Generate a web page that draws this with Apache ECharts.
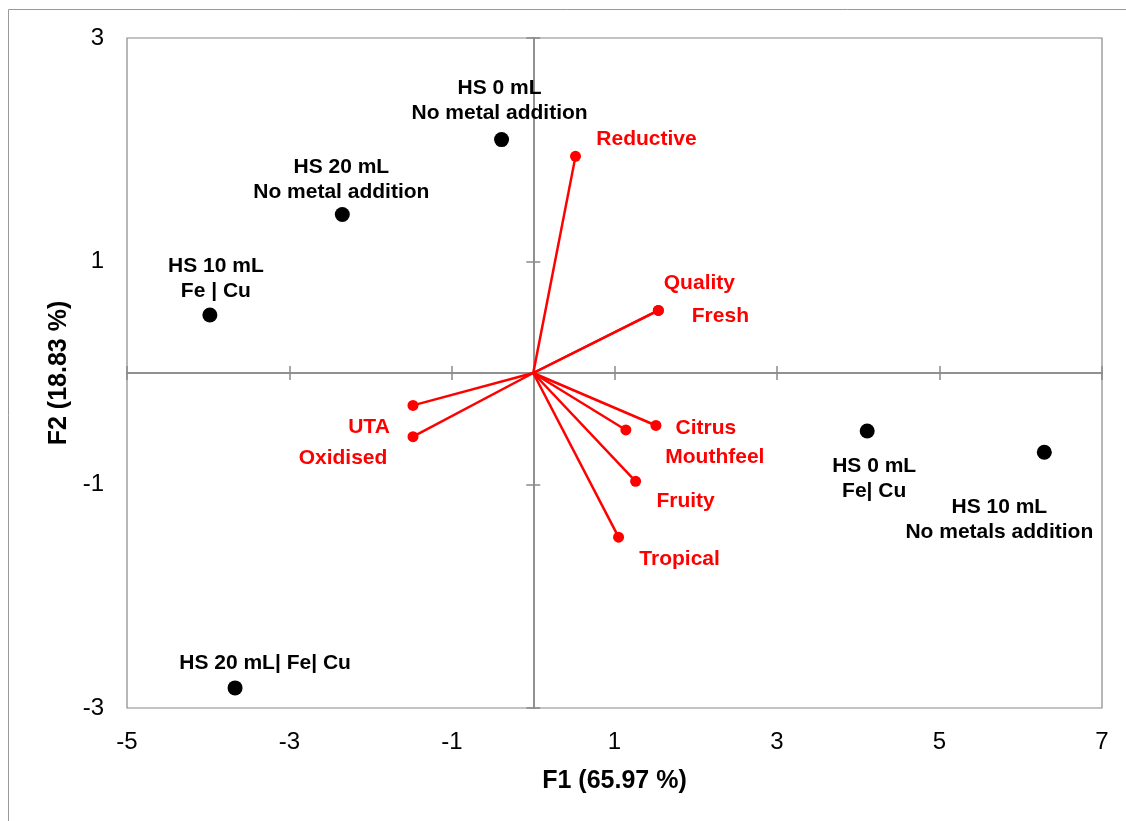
<!DOCTYPE html>
<html>
<head>
<meta charset="utf-8">
<script src="https://cdn.jsdelivr.net/npm/echarts@6/dist/echarts.min.js"></script>
<style>
html,body{margin:0;padding:0;background:#fff;}
#chart{width:1126px;height:821px;}
</style>
</head>
<body>
<div id="chart"></div>
<script>
// ---- Data ----
const obsNames = ['HS 0 mL\nNo metal addition', 'HS 20 mL\nNo metal addition', 'HS 10 mL\nFe | Cu', 'HS 20 mL| Fe| Cu', 'HS 0 mL\nFe| Cu', 'HS 10 mL\nNo metals addition'];
const obsF1 = [-0.39, -2.35, -3.98, -3.67, 4.11, 6.29];
const obsF2 = [2.09, 1.42, 0.52, -2.82, -0.52, -0.71];

const varNames = ['Reductive', 'Quality', 'Fresh', 'UTA', 'Oxidised', 'Citrus', 'Mouthfeel', 'Fruity', 'Tropical'];
const varF1 = [0.52, 1.54, 1.54, -1.48, -1.48, 1.51, 1.14, 1.26, 1.05];
const varF2 = [1.94, 0.56, 0.56, -0.29, -0.57, -0.47, -0.51, -0.97, -1.47];

const xTicks = [-5, -3, -1, 1, 3, 5, 7];
const yTicks = [-3, -1, 1, 3];
const xTitle = 'F1 (65.97 %)';
const yTitle = 'F2 (18.83 %)';

// ---- Label placement (pixel offsets of label centres from their marks) ----
const obsLabelOffsets = [[-2, -39], [-1, -35], [6, -36], [30, -25], [7, 48], [-45, 67]];
const varLabelOffsets = [[71, -17], [41, -27], [62, 6], [-44, 22], [-70, 22], [50, 3], [89, 27], [50, 20], [61, 22]];

const FONT = '"Liberation Sans", Arial, sans-serif';
const AXIS_GRAY = '#8a8a8a';

const chart = echarts.init(document.getElementById('chart'), null, {renderer: 'canvas'});

function baseX(extra) {
  return Object.assign({
    type: 'value', min: xTicks[0], max: xTicks[xTicks.length - 1], interval: 2,
    splitLine: {show: false}
  }, extra);
}
function baseY(extra) {
  return Object.assign({
    type: 'value', min: yTicks[0], max: yTicks[yTicks.length - 1], interval: 2,
    splitLine: {show: false}
  }, extra);
}

const zeroLine = {show: true, onZero: true, onZeroAxisIndex: 0, lineStyle: {color: AXIS_GRAY, width: 1.5}};

const vectorSeries = varNames.map((n, i) => ({
  type: 'line',
  name: 'vec-' + n,
  data: [[0, 0], [varF1[i], varF2[i]]],
  symbol: 'none',
  lineStyle: {color: '#ff0000', width: 2.5, opacity: 1},
  silent: true,
  animation: false,
  z: 3
}));

const option = {
  animation: false,
  backgroundColor: '#ffffff',
  textStyle: {fontFamily: FONT},
  grid: {
    left: 127, top: 38, width: 975, height: 670,
    show: true, borderColor: '#888888', borderWidth: 1.2, backgroundColor: 'transparent'
  },
  graphic: [{
    type: 'rect', silent: true, z: -10,
    shape: {x: 8.5, y: 9.5, width: 1300, height: 1000},
    style: {fill: 'none', stroke: '#999999', lineWidth: 1}
  }],
  xAxis: [
    baseX({
      position: 'bottom',
      axisLine: {show: false, onZero: false},
      axisTick: {show: false},
      axisLabel: {show: true, fontSize: 24, color: '#000', margin: 22, fontFamily: FONT,
        formatter: v => xTicks.includes(v) ? String(v) : ''},
      name: xTitle, nameLocation: 'middle', nameGap: 61,
      nameTextStyle: {fontSize: 25, fontWeight: 'bold', color: '#000', fontFamily: FONT}
    }),
    baseX({axisLine: zeroLine, axisTick: {show: true, inside: false, length: 7, lineStyle: {color: AXIS_GRAY, width: 1.5}}, axisLabel: {show: false}}),
    baseX({axisLine: zeroLine, axisTick: {show: true, inside: true, length: 7, lineStyle: {color: AXIS_GRAY, width: 1.5}}, axisLabel: {show: false}})
  ],
  yAxis: [
    baseY({
      position: 'left',
      axisLine: {show: false, onZero: false},
      axisTick: {show: false},
      axisLabel: {show: true, fontSize: 24, color: '#000', margin: 23, fontFamily: FONT,
        formatter: v => yTicks.includes(v) ? String(v) : ''},
      name: yTitle, nameLocation: 'middle', nameGap: 51, nameRotate: 90,
      nameTextStyle: {fontSize: 25, fontWeight: 'bold', color: '#000', fontFamily: FONT}
    }),
    baseY({axisLine: zeroLine, axisTick: {show: true, inside: false, length: 7, lineStyle: {color: AXIS_GRAY, width: 1.5}}, axisLabel: {show: false}}),
    baseY({axisLine: zeroLine, axisTick: {show: true, inside: true, length: 7, lineStyle: {color: AXIS_GRAY, width: 1.5}}, axisLabel: {show: false}})
  ],
  series: vectorSeries.concat([
    {
      type: 'scatter',
      name: 'variables',
      data: varNames.map((n, i) => ({
        value: [varF1[i], varF2[i]],
        label: {offset: varLabelOffsets[i]}
      })),
      symbol: 'circle', symbolSize: 11,
      itemStyle: {color: '#ff0000', opacity: 1},
      label: {
        show: true, position: 'inside',
        formatter: p => varNames[p.dataIndex],
        color: '#ff0000', fontSize: 21, fontWeight: 'bold', fontFamily: FONT,
        align: 'center', verticalAlign: 'middle', opacity: 1
      },
      emphasis: {disabled: true},
      z: 4
    },
    {
      type: 'scatter',
      name: 'observations',
      data: obsNames.map((n, i) => ({
        value: [obsF1[i], obsF2[i]],
        label: {offset: obsLabelOffsets[i]}
      })),
      symbol: 'circle', symbolSize: 15,
      itemStyle: {color: '#000000', opacity: 1},
      label: {
        show: true, position: 'inside',
        formatter: p => obsNames[p.dataIndex],
        color: '#000', fontSize: 21, fontWeight: 'bold', fontFamily: FONT,
        lineHeight: 25, align: 'center', verticalAlign: 'middle', opacity: 1
      },
      emphasis: {disabled: true},
      z: 5
    }
  ])
};

chart.setOption(option);
</script>
</body>
</html>
